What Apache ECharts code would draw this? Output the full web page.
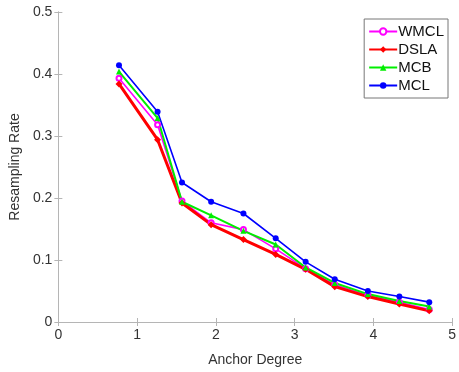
<!DOCTYPE html>
<html>
<head>
<meta charset="utf-8">
<script src="https://cdn.jsdelivr.net/npm/echarts@6/dist/echarts.min.js"></script>
<style>
  html, body { margin: 0; padding: 0; background: #fff; }
  #chart { width: 459px; height: 372px; }
</style>
</head>
<body>
<div id="chart"></div>
<script>
// anchor degree (x) and resampling rate per method
var degrees = [0.77, 1.26, 1.57, 1.94, 2.35, 2.76, 3.14, 3.51, 3.93, 4.33, 4.71];
var wmcl = [0.393, 0.318, 0.195, 0.160, 0.149, 0.118, 0.086, 0.060, 0.043, 0.032, 0.020];
var dsla = [0.384, 0.294, 0.192, 0.157, 0.133, 0.109, 0.085, 0.057, 0.041, 0.029, 0.018];
var mcb  = [0.404, 0.329, 0.194, 0.172, 0.147, 0.125, 0.088, 0.063, 0.045, 0.034, 0.025];
var mcl  = [0.414, 0.339, 0.225, 0.194, 0.175, 0.135, 0.097, 0.069, 0.050, 0.041, 0.032];

function pairs(ys) {
  return degrees.map(function (x, i) { return [x, ys[i]]; });
}

var font = 'Helvetica, Arial, "Liberation Sans", sans-serif';
var txt = '#333';
var axisCol = '#b5b5b5';

function mkSeries(name, ys, color, symbol, width, size) {
  return {
    name: name,
    type: 'line',
    data: pairs(ys),
    symbol: symbol,
    symbolSize: size,
    showSymbol: true,
    lineStyle: { color: color, width: width },
    itemStyle: { color: color },
    animation: false
  };
}

var chart = echarts.init(document.getElementById('chart'));
chart.setOption({
  backgroundColor: '#fff',
  grid: { left: 57, right: 5, top: 12, bottom: 49 },
  legend: {
    orient: 'vertical',
    right: 11,
    top: 19,
    padding: [5, 4, 5, 4],
    itemGap: 3,
    itemWidth: 28,
    itemHeight: 8,
    borderColor: '#777',
    borderWidth: 1,
    backgroundColor: '#fff',
    textStyle: { fontFamily: font, fontSize: 15, color: '#111', padding: [0, 0, 0, -4] },
    data: ['WMCL', 'DSLA', 'MCB', 'MCL']
  },
  xAxis: [{
    type: 'value', min: 0, max: 5, interval: 1,
    name: 'Anchor Degree', nameLocation: 'middle', nameGap: 31,
    nameTextStyle: { fontFamily: font, fontSize: 14, color: txt },
    axisLine: { show: true, lineStyle: { color: axisCol } },
    axisTick: { show: true, inside: true, length: 4, lineStyle: { color: axisCol } },
    axisLabel: { fontFamily: font, fontSize: 14, color: txt, margin: 6 },
    splitLine: { show: false }
  }, {
    type: 'value', min: 0, max: 5, interval: 1, position: 'top',
    axisLine: { show: true, lineStyle: { color: axisCol } },
    axisTick: { show: true, inside: true, length: 4, lineStyle: { color: axisCol } },
    axisLabel: { show: false }, splitLine: { show: false }
  }],
  yAxis: [{
    type: 'value', min: 0, max: 0.5, interval: 0.1,
    name: 'Resampling Rate', nameLocation: 'middle', nameGap: 30,
    nameTextStyle: { fontFamily: font, fontSize: 14, color: txt },
    axisLine: { show: true, lineStyle: { color: axisCol } },
    axisTick: { show: true, inside: true, length: 4, lineStyle: { color: axisCol } },
    axisLabel: { fontFamily: font, fontSize: 14, color: txt, margin: 6,
      formatter: function (v) { return v === 0 ? '0' : v.toFixed(1); } },
    splitLine: { show: false }
  }, {
    type: 'value', min: 0, max: 0.5, interval: 0.1, position: 'right',
    axisLine: { show: true, lineStyle: { color: axisCol } },
    axisTick: { show: true, inside: true, length: 4, lineStyle: { color: axisCol } },
    axisLabel: { show: false }, splitLine: { show: false }
  }],
  series: [
    mkSeries('WMCL', wmcl, '#ff00ff', 'emptyCircle', 1.6, 5),
    mkSeries('DSLA', dsla, '#ff0000', 'diamond', 3, 7),
    mkSeries('MCB', mcb, '#00ee00', 'triangle', 2, 6),
    mkSeries('MCL', mcl, '#0000ff', 'circle', 1.6, 6)
  ]
});
</script>
</body>
</html>
